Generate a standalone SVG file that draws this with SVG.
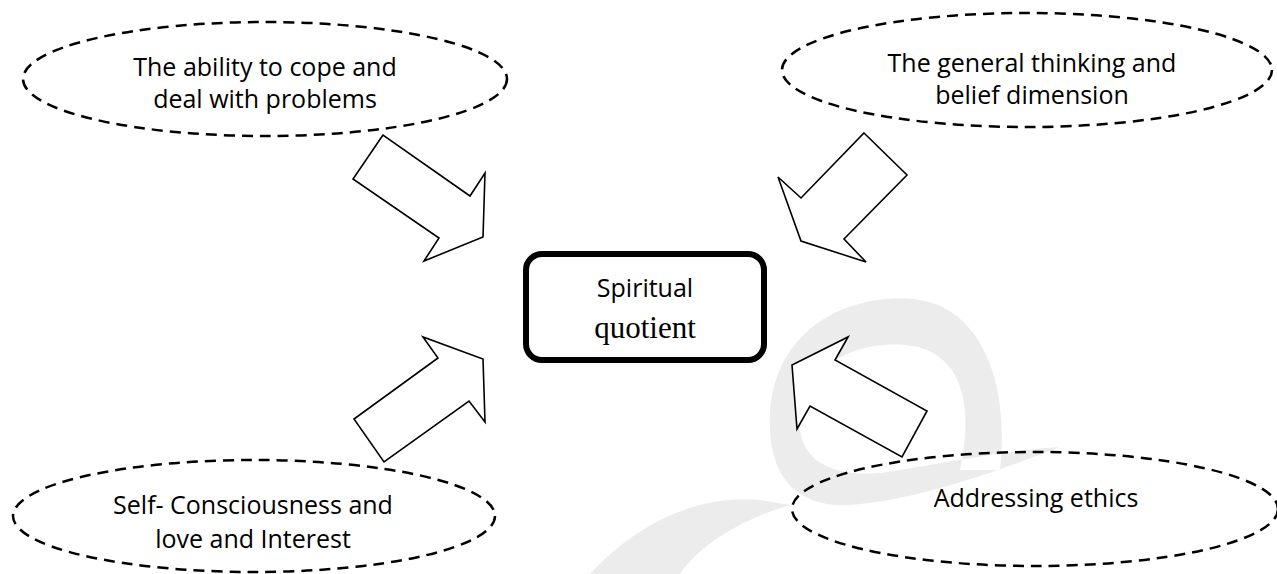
<svg xmlns="http://www.w3.org/2000/svg" width="1277" height="574" viewBox="0 0 1277 574">
<style>
.oval{fill:none;stroke:#000;stroke-width:2.5;stroke-dasharray:11 7}
.lbl{font-family:"Open Sans","Liberation Sans",sans-serif;font-size:25px;fill:#000;text-anchor:middle}
.ser{font-family:"Liberation Serif","DejaVu Serif",serif;font-size:31px;fill:#000;text-anchor:middle}
.arr{fill:#fff;stroke:#000;stroke-width:1.6;stroke-linejoin:miter}
.box{fill:#fff;stroke:#000;stroke-width:6}
.wm{fill:#ececec;fill-rule:evenodd}
</style>
<rect width="1277" height="574" fill="#fff"/>
<g id="watermark">
<path class="wm" d="M770,430 C765,330 850,290 920,300 C980,310 1010,380 1000,470 L960,470 C975,400 960,350 905,345 C840,340 795,380 800,430 C805,470 850,480 900,470 C960,460 1010,450 1060,447 C1000,470 920,500 850,505 C800,508 772,480 770,430 Z"/>
<path class="wm" d="M590,574 C640,520 700,495 760,500 L790,505 C740,520 700,545 680,574 Z"/>
</g>
<g id="connectors">
<polygon class="arr" points="383,135 353,179 439,238 424,261 483,237 485,173 470,196"/>
<polygon class="arr" points="864,133 907,175 844,239 866,262 801,241 778,177 801,198"/>
<polygon class="arr" points="423,337 438,358 354,419 384,462 469,401 485,422 483,359"/>
<polygon class="arr" points="848,337 835,360 927,411 902,457 810,406 797,429 792,365"/>
</g>
<g id="node-cope">
<ellipse class="oval" cx="265" cy="79" rx="242" ry="57"/>
<text class="lbl" x="265" y="76">The ability to cope and</text>
<text class="lbl" x="265" y="108">deal with problems</text>
</g>
<g id="node-thinking">
<ellipse class="oval" cx="1027" cy="70" rx="245" ry="57"/>
<text class="lbl" x="1032" y="72">The general thinking and</text>
<text class="lbl" x="1032" y="104">belief dimension</text>
</g>
<g id="node-self">
<ellipse class="oval" cx="254" cy="516" rx="241" ry="56"/>
<text class="lbl" x="253" y="514">Self- Consciousness and</text>
<text class="lbl" x="253" y="548">love and Interest</text>
</g>
<g id="node-ethics">
<ellipse class="oval" cx="1035" cy="509" rx="243" ry="57"/>
<text class="lbl" x="1036" y="507">Addressing ethics</text>
</g>
<g id="node-sq">
<rect class="box" x="526" y="254" width="238" height="106" rx="16"/>
<text class="lbl" x="645" y="297">Spiritual</text>
<text class="ser" x="645" y="338">quotient</text>
</g>
</svg>
